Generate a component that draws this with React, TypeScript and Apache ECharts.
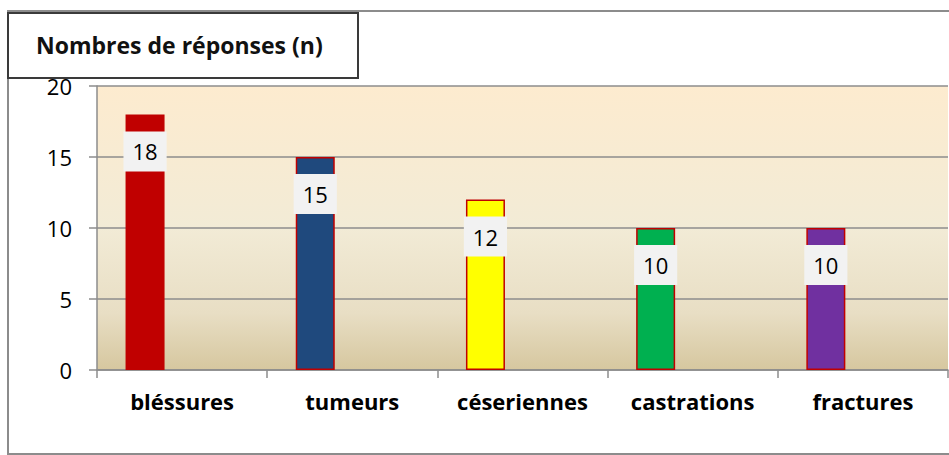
import React, { useEffect, useRef } from "react";
import * as echarts from "echarts";

const titleText = "Nombres de réponses (n)";
const categories = ["bléssures", "tumeurs", "céseriennes", "castrations", "fractures"];
const values = [18, 15, 12, 10, 10];
const barColors = ["#C00000", "#1F497D", "#FFFF00", "#00B050", "#7030A0"];
const yTicks = { min: 0, max: 20, interval: 5 };

export default function App() {
  const ref = useRef<HTMLDivElement>(null);
  useEffect(() => {
    if (!ref.current) return;
    const chart = echarts.init(ref.current, null, { renderer: "svg" });
    const font = "'Open Sans', 'Liberation Sans', sans-serif";
    chart.setOption({
      animation: false,
      backgroundColor: "#ffffff",
      title: {
        text: titleText,
        left: 8,
        top: 13,
        padding: [17, 36, 18, 28],
        backgroundColor: "#ffffff",
        borderColor: "#3a3a3a",
        borderWidth: 2,
        textStyle: { fontFamily: font, fontWeight: "bold", fontSize: 23, color: "#111", lineHeight: 30 },
        z: 10,
      },
      graphic: [
        {
          type: "rect",
          z: -1,
          silent: true,
          shape: { x: 8, y: 11, width: 1000, height: 443 },
          style: { fill: "none", stroke: "#8c8c8c", lineWidth: 2 },
        },
      ],
      grid: {
        left: 97,
        right: 1,
        top: 86,
        bottom: 85,
        show: true,
        borderWidth: 0,
        backgroundColor: new echarts.graphic.LinearGradient(0, 0, 0, 1, [
          { offset: 0, color: "#FDEBCF" },
          { offset: 0.5, color: "#F2EBD6" },
          { offset: 0.8, color: "#E8DEC4" },
          { offset: 1, color: "#D6C79F" },
        ]),
      },
      xAxis: {
        type: "category",
        data: categories,
        axisLine: { show: true, lineStyle: { color: "#8c8c8c", width: 1.5 } },
        axisTick: { show: true, length: 8, alignWithLabel: false, lineStyle: { color: "#8c8c8c", width: 1.5 } },
        axisLabel: { fontFamily: font, fontWeight: "bold", fontSize: 22, color: "#000", margin: 20 },
        splitLine: { show: false },
      },
      yAxis: {
        type: "value",
        min: yTicks.min,
        max: yTicks.max,
        interval: yTicks.interval,
        axisLine: { show: true, lineStyle: { color: "#8c8c8c", width: 1.5 } },
        axisTick: { show: true, length: 8, lineStyle: { color: "#8c8c8c", width: 1.5 } },
        axisLabel: { fontFamily: font, fontSize: 22, color: "#000", margin: 25 },
        splitLine: { show: true, lineStyle: { color: "#8c8c8c", width: 1.5 } },
      },
      series: [
        {
          type: "bar",
          barWidth: 39,
          barGap: "90%",
          data: values.map((v, i) => ({
            value: v,
            itemStyle: { color: barColors[i], borderColor: "#C00000", borderWidth: 1.5 },
          })),
          label: {
            show: true,
            position: "insideTop",
            distance: 17,
            fontFamily: font,
            fontSize: 22,
            lineHeight: 22,
            color: "#000",
            backgroundColor: "#F2F2F2",
            padding: [9, 9],
          },
        },
        {
          type: "bar",
          barWidth: 39,
          data: values.map(() => null),
        },
      ],
    });
    return () => chart.dispose();
  }, []);
  return (
    <div
      ref={ref}
      style={{ position: "absolute", left: 0, top: 0, width: 949, height: 455 }}
    />
  );
}
